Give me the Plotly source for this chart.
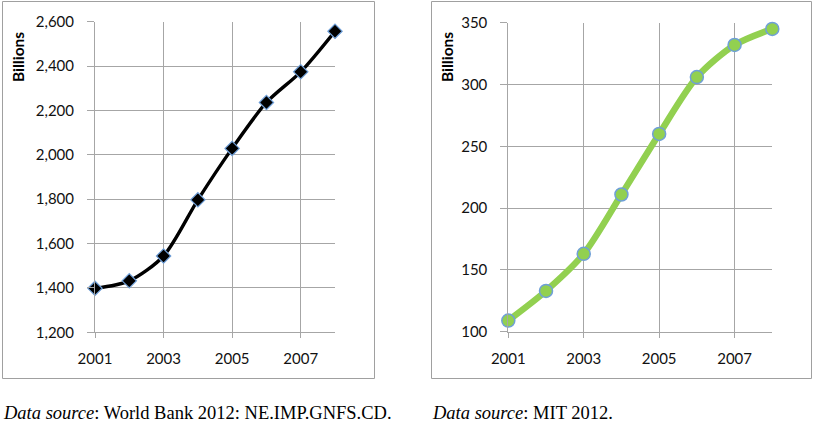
import plotly.graph_objects as go

W, H = 815, 424

years = [2001, 2002, 2003, 2004, 2005, 2006, 2007, 2008]
imports_wb = [1398, 1432, 1544, 1797, 2029, 2236, 2374, 2557]
imports_mit = [109, 133, 163, 211, 260, 306, 332, 345]
x_ticks = [2001, 2003, 2005, 2007]
left_yticks = [1200, 1400, 1600, 1800, 2000, 2200, 2400, 2600]
right_yticks = [100, 150, 200, 250, 300, 350]
y_title = "Billions"
caption_left = "<i>Data source</i>: World Bank 2012: NE.IMP.GNFS.CD."
caption_right = "<i>Data source</i>: MIT 2012."


def px_x(v):
    return v / W


def px_y(v):
    return 1 - v / H


GRID = "#a6a6a6"
TICKFONT = dict(family="Lato", size=15, color="#111111")
SERIF = "Liberation Serif, Times New Roman, serif"

fig = go.Figure()
fig.update_layout(template="none")

fig.add_trace(go.Scatter(
    x=years, y=imports_wb, mode="lines+markers",
    line=dict(color="black", width=3.4, shape="spline", smoothing=0.8),
    marker=dict(symbol="diamond", size=11, color="black",
                line=dict(color="#6f9fd8", width=1.2)),
    cliponaxis=False, xaxis="x", yaxis="y", showlegend=False))

fig.add_trace(go.Scatter(
    x=years, y=imports_mit, mode="lines+markers",
    line=dict(color="#92d050", width=6.5, shape="spline", smoothing=0.8),
    marker=dict(symbol="circle", size=13, color="#92d050",
                line=dict(color="#6f9fd8", width=1.5)),
    cliponaxis=False, xaxis="x2", yaxis="y2", showlegend=False))

common_x = dict(range=[2001, 2008], tickvals=x_ticks, showgrid=True,
                gridcolor=GRID, gridwidth=1, showline=True, linecolor=GRID,
                linewidth=1, ticks="outside", ticklen=5, tickcolor=GRID,
                tickfont=TICKFONT, zeroline=False, ticklabelstandoff=8,
                fixedrange=True, automargin=False)
common_y = dict(showgrid=True, gridcolor=GRID, gridwidth=1, showline=True,
                linecolor=GRID, linewidth=1, ticks="outside", ticklen=7,
                tickcolor=GRID, tickfont=TICKFONT, zeroline=False,
                fixedrange=True, automargin=False)

fig.update_layout(
    width=W, height=H,
    margin=dict(l=0, r=0, t=0, b=0, pad=0, autoexpand=False),
    paper_bgcolor="white", plot_bgcolor="white",
    xaxis=dict(domain=[px_x(95), px_x(335)], anchor="y", **common_x),
    yaxis=dict(domain=[px_y(332.3), px_y(21.7)], anchor="x",
               range=[1200, 2600], tickvals=left_yticks, tickformat=",",
               ticklabelstandoff=10, **common_y),
    xaxis2=dict(domain=[px_x(508.3), px_x(772.3)], anchor="y2", **common_x),
    yaxis2=dict(domain=[px_y(331.7), px_y(22.7)], anchor="x2",
                range=[100, 350], tickvals=right_yticks,
                ticklabelstandoff=10, **common_y),
)

shapes = [
    dict(type="rect", xref="paper", yref="paper",
         x0=px_x(2.5), x1=px_x(374.5), y0=px_y(378.5), y1=px_y(1.5),
         line=dict(color="#a0a0a0", width=1)),
    dict(type="rect", xref="paper", yref="paper",
         x0=px_x(431.5), x1=px_x(811.5), y0=px_y(378.5), y1=px_y(1.5),
         line=dict(color="#a0a0a0", width=1)),
]
fig.update_layout(shapes=shapes)

ann = [
    dict(text=y_title, x=px_x(18), y=px_y(57), xref="paper", yref="paper",
         textangle=-90, showarrow=False, xanchor="center", yanchor="middle",
         font=dict(family="Lato", size=15.5, color="black", weight="bold")),
    dict(text=y_title, x=px_x(447), y=px_y(57), xref="paper", yref="paper",
         textangle=-90, showarrow=False, xanchor="center", yanchor="middle",
         font=dict(family="Lato", size=15.5, color="black", weight="bold")),
    dict(text=caption_left, x=px_x(2), y=px_y(423.5), xref="paper",
         yref="paper", showarrow=False, xanchor="left", yanchor="bottom",
         borderpad=0, font=dict(family=SERIF, size=18.5, color="black")),
    dict(text=caption_right, x=px_x(431), y=px_y(423.5), xref="paper",
         yref="paper", showarrow=False, xanchor="left", yanchor="bottom",
         borderpad=0, font=dict(family=SERIF, size=18.5, color="black")),
]
fig.update_layout(annotations=ann)

fig.write_html("out.html",
               post_script="document.body.style.margin='0';"
                           "document.body.style.overflow='hidden';")
